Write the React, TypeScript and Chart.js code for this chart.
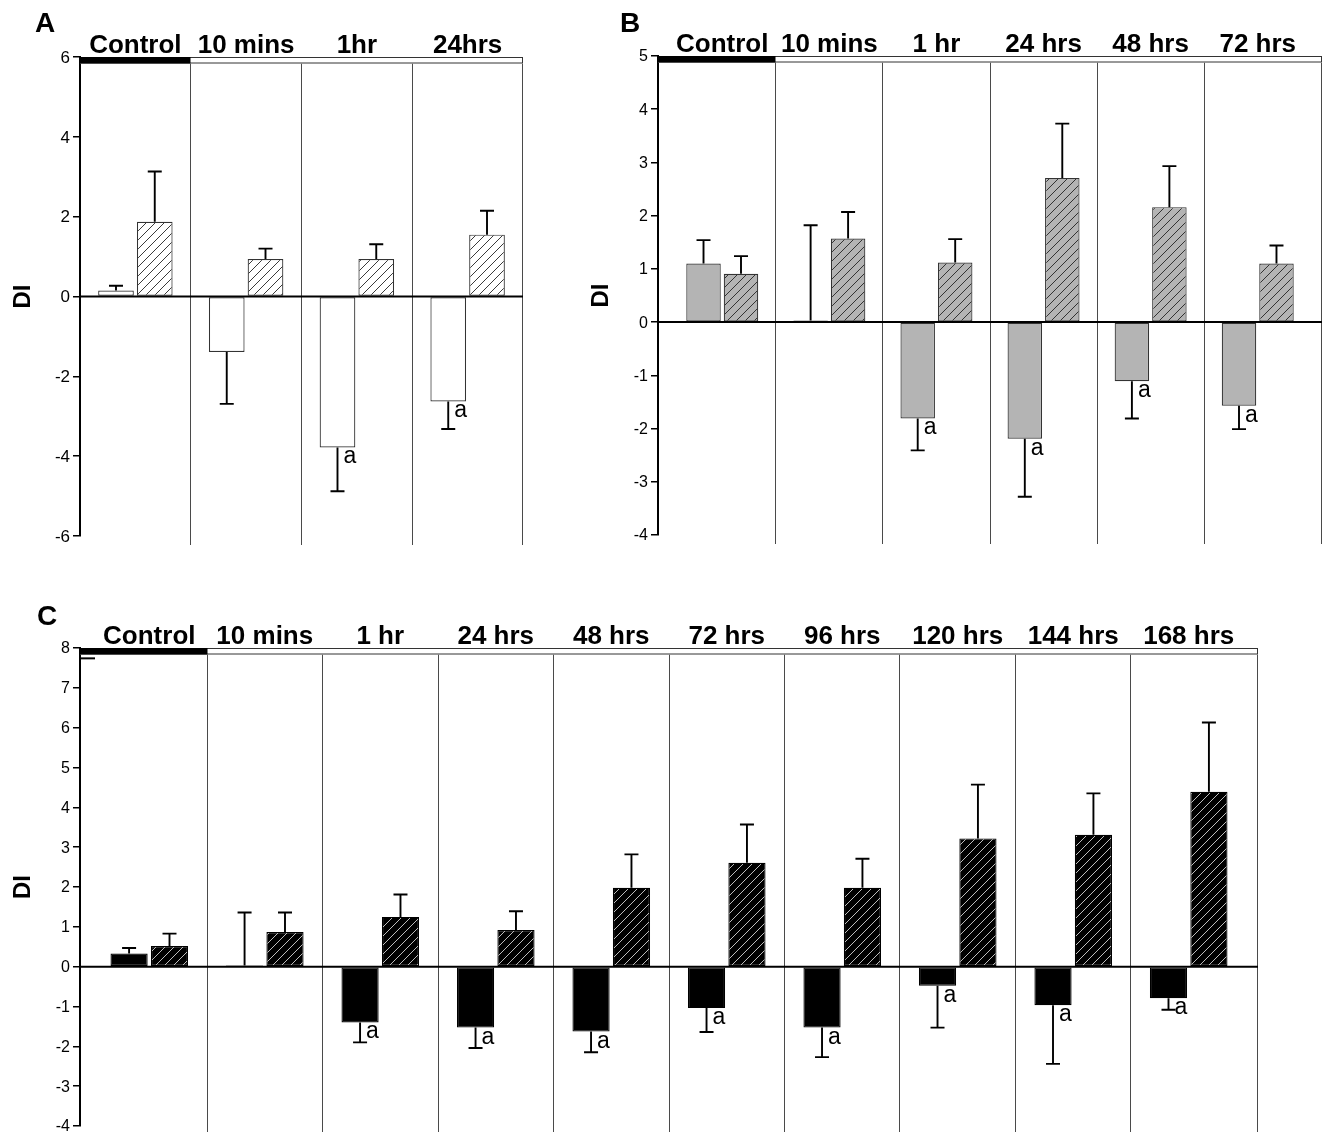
import React, { useEffect, useRef } from 'react';
import { Chart, registerables } from 'chart.js';

Chart.register(...registerables);

// ---------------- Data ----------------
// Panel A
const A_CATEGORIES = ['Control', '10 mins', '1hr', '24hrs'];
const A_SERIES1 = [0.15, -1.39, -3.78, -2.63];
const A_SERIES1_ERR = [0.12, 1.3, 1.1, 0.69];
const A_SERIES2 = [1.87, 0.94, 0.94, 1.55];
const A_SERIES2_ERR = [1.26, 0.26, 0.37, 0.6];
const A_SIGNIFICANT = [false, false, true, true];
const A_Y_TICKS = [-6, -4, -2, 0, 2, 4, 6];

// Panel B
const B_CATEGORIES = ['Control', '10 mins', '1 hr', '24 hrs', '48 hrs', '72 hrs'];
const B_SERIES1 = [1.1, 0.03, -1.81, -2.19, -1.11, -1.57];
const B_SERIES1_ERR = [0.44, 1.79, 0.6, 1.09, 0.7, 0.44];
const B_SERIES2 = [0.91, 1.57, 1.12, 2.71, 2.16, 1.1];
const B_SERIES2_ERR = [0.33, 0.5, 0.44, 1.02, 0.77, 0.34];
const B_SIGNIFICANT = [false, false, true, true, true, true];
const B_Y_TICKS = [-4, -3, -2, -1, 0, 1, 2, 3, 4, 5];

// Panel C
const C_CATEGORIES = ['Control', '10 mins', '1 hr', '24 hrs', '48 hrs', '72 hrs', '96 hrs', '120 hrs', '144 hrs', '168 hrs'];
const C_SERIES1 = [0.33, 0.03, -1.4, -1.53, -1.63, -1.04, -1.53, -0.48, -0.97, -0.79];
const C_SERIES1_ERR = [0.14, 1.33, 0.5, 0.51, 0.52, 0.6, 0.74, 1.05, 1.47, 0.29];
const C_SERIES2 = [0.52, 0.87, 1.25, 0.92, 1.98, 2.61, 1.98, 3.22, 3.31, 4.39];
const C_SERIES2_ERR = [0.31, 0.49, 0.56, 0.47, 0.84, 0.96, 0.73, 1.35, 1.04, 1.74];
const C_SIGNIFICANT = [false, false, true, true, true, true, true, true, true, true];
const C_Y_TICKS = [-4, -3, -2, -1, 0, 1, 2, 3, 4, 5, 6, 7, 8];

const SIG_LABEL = 'a';
const Y_TITLE = 'DI';

// ---------------- Styling / layout ----------------
const FONT = '"Liberation Sans", Arial, Helvetica, sans-serif';
const TOPBAR_H = 6.5;

Chart.defaults.font.family = FONT;
Chart.defaults.color = '#000';

function makeHatch(bg: string, line: string, size: number, lw: number) {
  const c = document.createElement('canvas');
  c.width = size;
  c.height = size;
  const g = c.getContext('2d') as CanvasRenderingContext2D;
  g.fillStyle = bg;
  g.fillRect(0, 0, size, size);
  g.strokeStyle = line;
  g.lineWidth = lw;
  g.beginPath();
  g.moveTo(0, size);
  g.lineTo(size, 0);
  g.moveTo(-size / 2, size / 2);
  g.lineTo(size / 2, -size / 2);
  g.moveTo(size / 2, size * 1.5);
  g.lineTo(size * 1.5, size / 2);
  g.stroke();
  return g.createPattern(c, 'repeat');
}

const PANELS: any[] = [
  {
    letter: 'A',
    categories: A_CATEGORIES, s1: A_SERIES1, e1: A_SERIES1_ERR, s2: A_SERIES2, e2: A_SERIES2_ERR,
    sig: A_SIGNIFICANT, yTicks: A_Y_TICKS,
    xPad: 0.5,
    fill1: '#ffffff', border1: '#333333', hatchBg: '#ffffff', hatchLine: '#3a3a3a', border2: '#333333',
    tickSize: 17,
    box: { left: 0, top: 0, width: 580, height: 560 },
    area: { left: 80, right: 523, top: 57, bottom: 536 },
    letterPos: { x: 35, y: 32 },
    sepExtend: 9,
    innerDash: null,
  },
  {
    letter: 'B',
    categories: B_CATEGORIES, s1: B_SERIES1, e1: B_SERIES1_ERR, s2: B_SERIES2, e2: B_SERIES2_ERR,
    sig: B_SIGNIFICANT, yTicks: B_Y_TICKS,
    xPad: 0.6,
    fill1: '#b4b4b4', border1: '#333333', hatchBg: '#b4b4b4', hatchLine: '#333333', border2: '#333333',
    tickSize: 16,
    box: { left: 580, top: 0, width: 743, height: 560 },
    area: { left: 78, right: 742, top: 56, bottom: 535 },
    letterPos: { x: 40, y: 32 },
    sepExtend: 9,
    innerDash: null,
  },
  {
    letter: 'C',
    categories: C_CATEGORIES, s1: C_SERIES1, e1: C_SERIES1_ERR, s2: C_SERIES2, e2: C_SERIES2_ERR,
    sig: C_SIGNIFICANT, yTicks: C_Y_TICKS,
    xPad: 0.6,
    fill1: '#000000', border1: '#000000', hatchBg: '#000000', hatchLine: '#bdbdbd', border2: '#000000',
    tickSize: 16,
    box: { left: 0, top: 590, width: 1323, height: 552 },
    area: { left: 80, right: 1258, top: 58, bottom: 536 },
    letterPos: { x: 37, y: 35 },
    sepExtend: 20,
    innerDash: 7.74,
  },
];

function boundaries(p: any, x: any, ca: any) {
  const out: number[] = [];
  for (let i = 0; i < p.categories.length - 1; i++) out.push(Math.floor(x.getPixelForValue(i + 0.5)) + 0.5);
  out.push(Math.round(ca.right) - 0.5);
  return out;
}

function decorPlugin(p: any) {
  return {
    id: 'decor' + p.letter,
    beforeDatasetsDraw(chart: any) {
      const { ctx, chartArea: ca } = chart;
      const x = chart.scales.x;
      const bounds = boundaries(p, x, ca);
      ctx.save();
      ctx.strokeStyle = '#4a4a4a';
      ctx.lineWidth = 1;
      for (const bx of bounds) {
        ctx.beginPath();
        ctx.moveTo(bx, ca.top + TOPBAR_H);
        ctx.lineTo(bx, ca.bottom + p.sepExtend);
        ctx.stroke();
      }
      ctx.restore();
    },
    afterDatasetsDraw(chart: any) {
      const { ctx, chartArea: ca } = chart;
      const x = chart.scales.x;
      const y = chart.scales.y;
      ctx.save();

      // zero line
      const y0 = y.getPixelForValue(0);
      ctx.strokeStyle = '#000';
      ctx.lineWidth = 2;
      ctx.beginPath();
      ctx.moveTo(ca.left, y0);
      ctx.lineTo(ca.right, y0);
      ctx.stroke();

      // error bars
      const series = [[p.s1, p.e1], [p.s2, p.e2]];
      ctx.lineWidth = 1.9;
      series.forEach(([vals, errs]: any, d: number) => {
        const meta = chart.getDatasetMeta(d);
        vals.forEach((v: number, i: number) => {
          const el = meta.data[i];
          if (!el) return;
          const dir = v >= 0 ? 1 : -1;
          const yEnd = y.getPixelForValue(v + dir * errs[i]);
          const cx = el.x;
          ctx.beginPath();
          ctx.moveTo(cx, el.y);
          ctx.lineTo(cx, yEnd);
          ctx.moveTo(cx - 7, yEnd);
          ctx.lineTo(cx + 7, yEnd);
          ctx.stroke();
        });
      });

      // significance markers
      const meta0 = chart.getDatasetMeta(0);
      ctx.fillStyle = '#000';
      ctx.font = `23px ${FONT}`;
      ctx.textAlign = 'left';
      ctx.textBaseline = 'alphabetic';
      p.sig.forEach((s: boolean, i: number) => {
        if (!s) return;
        const el = meta0.data[i];
        ctx.fillText(SIG_LABEL, el.x + 6, el.y + 16);
      });

      // small inner dash (panel C)
      if (p.innerDash != null) {
        const yd = y.getPixelForValue(p.innerDash);
        ctx.lineWidth = 2;
        ctx.beginPath();
        ctx.moveTo(ca.left, yd);
        ctx.lineTo(ca.left + 15, yd);
        ctx.stroke();
      }

      // top bar
      const bounds = boundaries(p, x, ca);
      ctx.fillStyle = '#fff';
      ctx.fillRect(ca.left, ca.top, ca.right - ca.left, TOPBAR_H);
      ctx.strokeStyle = '#333';
      ctx.lineWidth = 1;
      ctx.strokeRect(ca.left + 0.5, ca.top + 0.5, ca.right - ca.left - 1, TOPBAR_H - 1);
      ctx.fillStyle = '#000';
      ctx.fillRect(ca.left - 1, ca.top, bounds[0] - ca.left + 1, TOPBAR_H);

      // y tick labels (positioned through the y scale)
      ctx.fillStyle = '#000';
      ctx.font = `${p.tickSize}px ${FONT}`;
      ctx.textAlign = 'right';
      ctx.textBaseline = 'middle';
      p.yTicks.forEach((v: number) => {
        ctx.fillText(String(v), ca.left - 10, y.getPixelForValue(v) + 1);
      });

      // header labels
      ctx.font = `bold 26px ${FONT}`;
      ctx.textAlign = 'center';
      ctx.textBaseline = 'alphabetic';
      p.categories.forEach((c: string, i: number) => {
        ctx.fillText(c, x.getPixelForValue(i), ca.top - 4);
      });

      // panel letter
      ctx.textAlign = 'left';
      ctx.font = `bold 28px ${FONT}`;
      ctx.fillText(p.letter, p.letterPos.x, p.letterPos.y);

      // y title
      ctx.translate(ca.left - 57, (ca.top + ca.bottom) / 2);
      ctx.rotate(-Math.PI / 2);
      ctx.textAlign = 'center';
      ctx.textBaseline = 'middle';
      ctx.font = `bold 24px ${FONT}`;
      ctx.fillText(Y_TITLE, 0, 0);

      ctx.restore();
    },
  };
}

function buildConfig(p: any) {
  const n = p.categories.length;
  const hatch = makeHatch(p.hatchBg, p.hatchLine, 9, 1);
  return {
    type: 'bar',
    data: {
      datasets: [
        {
          data: p.s1.map((v: number, i: number) => ({ x: i, y: v })),
          backgroundColor: p.fill1,
          borderColor: p.border1,
          borderWidth: 1.2,
          borderSkipped: false,
          categoryPercentage: 0.7,
          barPercentage: 0.92,
        },
        {
          data: p.s2.map((v: number, i: number) => ({ x: i, y: v })),
          backgroundColor: hatch,
          borderColor: p.border2,
          borderWidth: 1.2,
          borderSkipped: false,
          categoryPercentage: 0.7,
          barPercentage: 0.92,
        },
      ],
    },
    options: {
      animation: false,
      responsive: false,
      devicePixelRatio: 1,
      layout: {
        padding: {
          left: 0,
          top: p.area.top,
          right: p.box.width - p.area.right,
          bottom: p.box.height - p.area.bottom,
        },
      },
      plugins: {
        legend: { display: false },
        tooltip: { enabled: false },
        title: { display: false },
      },
      scales: {
        x: {
          type: 'linear',
          display: false,
          offset: false,
          min: -p.xPad,
          max: n - 1 + p.xPad,
          afterBuildTicks: (s: any) => {
            s.ticks = p.categories.map((_: string, i: number) => ({ value: i }));
          },
        },
        y: {
          type: 'linear',
          min: p.yTicks[0],
          max: p.yTicks[p.yTicks.length - 1],
          afterBuildTicks: (s: any) => {
            s.ticks = p.yTicks.map((v: number) => ({ value: v }));
          },
          afterFit: (s: any) => {
            s.width = p.area.left;
          },
          grid: {
            drawOnChartArea: false,
            drawTicks: true,
            tickLength: 7,
            color: '#000',
            lineWidth: 1.5,
          },
          border: { display: true, color: '#000', width: 2 },
          ticks: { display: false },
        },
      },
    },
    plugins: [decorPlugin(p)],
  };
}

function Panel({ spec }: { spec: any }) {
  const ref = useRef<HTMLCanvasElement>(null);
  useEffect(() => {
    const chart = new Chart(ref.current as HTMLCanvasElement, buildConfig(spec) as any);
    return () => chart.destroy();
  }, [spec]);
  return (
    <canvas
      ref={ref}
      width={spec.box.width}
      height={spec.box.height}
      style={{
        position: 'absolute',
        left: spec.box.left,
        top: spec.box.top,
        width: spec.box.width,
        height: spec.box.height,
      }}
    />
  );
}

export default function App() {
  useEffect(() => {
    document.body.style.margin = '0';
    document.body.style.overflow = 'hidden';
  }, []);
  return (
    <div style={{ position: 'relative', width: 1323, height: 1132, overflow: 'hidden', background: '#fff' }}>
      {PANELS.map((p) => (
        <Panel key={p.letter} spec={p} />
      ))}
    </div>
  );
}
